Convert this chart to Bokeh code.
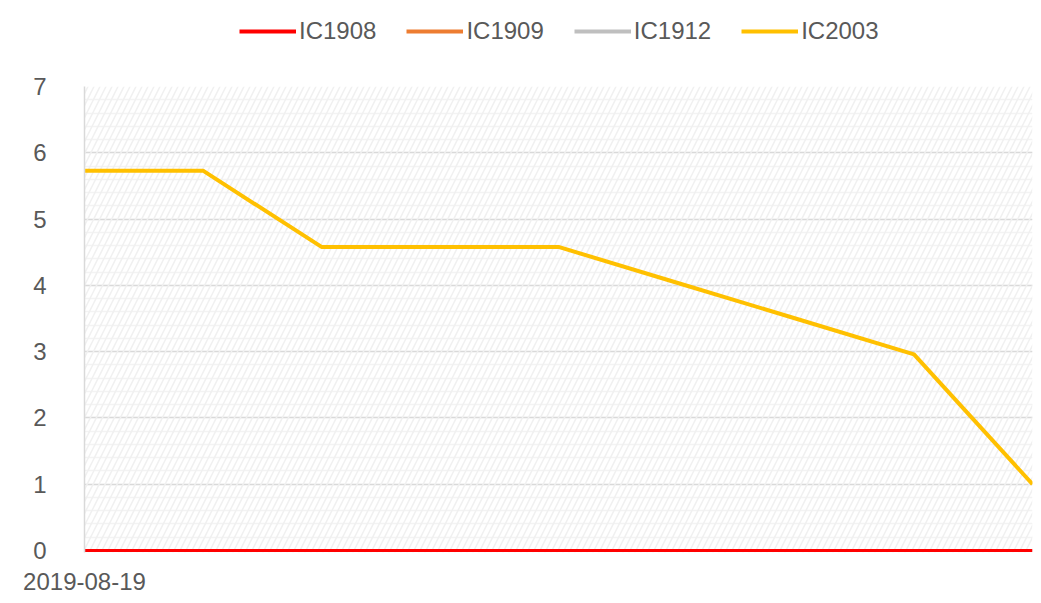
from bokeh.plotting import figure
from bokeh.models import Range1d, FixedTicker, Legend, LegendItem, BoxAnnotation, ColumnDataSource
from bokeh.layouts import column
from bokeh.embed import file_html
from bokeh.resources import INLINE

nan = float("nan")

# Data
categories = ["2019-08-19", "", "", "", "", "", "", "", ""]
x_idx = list(range(len(categories)))
ic1908 = [0, 0, 0, 0, 0, 0, 0, 0, 0]
ic1909 = [nan] * 9
ic1912 = [nan] * 9
ic2003 = [5.73, 5.73, 4.58, 4.58, 4.58, 4.04, 3.50, 2.96, 1.00]
series_names = ["IC1908", "IC1909", "IC1912", "IC2003"]
colors = ["#ff0000", "#ed7d31", "#bfbfbf", "#ffc000"]
y_ticks = [0, 1, 2, 3, 4, 5, 6, 7]

FONT = "Liberation Sans"
TXT = "#595959"
W = 1033
LEG_H = 62

p = figure(width=W, height=533, output_backend="svg", toolbar_location=None,
           x_range=Range1d(0, len(categories) - 1), y_range=Range1d(-0.03, 7),
           min_border_left=84, min_border_right=1, min_border_top=24, min_border_bottom=43)
p.outline_line_color = None
p.background_fill_color = "white"

p.add_layout(BoxAnnotation(fill_alpha=0, line_alpha=0, hatch_pattern="right_diagonal_line",
                           hatch_color="#f0f0f0", hatch_scale=12, hatch_weight=1.5, level="underlay"))

# grids
p.xgrid.grid_line_color = None
p.ygrid.grid_line_color = "#d9d9d9"
p.ygrid.grid_line_width = 1.5
p.ygrid.minor_grid_line_color = "#f3f3f3"
p.ygrid.minor_grid_line_width = 1.5

# axes
p.yaxis.ticker = FixedTicker(ticks=y_ticks, minor_ticks=[i / 5 for i in range(1, 36)])
p.yaxis.axis_line_color = "#d9d9d9"
p.yaxis.axis_line_width = 1.5
p.yaxis.major_tick_line_color = None
p.yaxis.minor_tick_line_color = None
p.yaxis.major_label_standoff = 32
p.yaxis.major_label_text_font = FONT
p.yaxis.major_label_text_font_size = "24px"
p.yaxis.major_label_text_color = TXT

p.xaxis.ticker = FixedTicker(ticks=[i for i, c in enumerate(categories) if c])
p.xaxis.major_label_overrides = {i: c for i, c in enumerate(categories) if c}
p.xaxis.axis_line_color = None
p.xaxis.major_tick_line_color = None
p.xaxis.minor_tick_line_color = None
p.xaxis.major_label_standoff = 14
p.xaxis.major_label_text_font = FONT
p.xaxis.major_label_text_font_size = "24px"
p.xaxis.major_label_text_color = TXT

# legend figure
lf = figure(width=W, height=LEG_H, output_backend="svg", toolbar_location=None,
            x_range=Range1d(0, 1), y_range=Range1d(0, 1),
            min_border_left=0, min_border_right=0, min_border_top=0, min_border_bottom=0)
lf.axis.visible = False
lf.grid.visible = False
lf.outline_line_color = None

data = [ic1908, ic1909, ic1912, ic2003]
widths = [3, 3, 3, 4]
items = []
for name, vals, col, w in zip(series_names, data, colors, widths):
    src = ColumnDataSource(dict(x=x_idx, y=vals))
    p.line("x", "y", source=src, line_color=col, line_width=w)
    rl = lf.line(x=[nan], y=[nan], line_color=col, line_width=4)
    items.append(LegendItem(label=name, renderers=[rl]))

legend = Legend(items=items, orientation="horizontal", location=(155, 17),
                label_text_font=FONT, label_text_font_size="24px", label_text_color=TXT,
                glyph_width=57, glyph_height=28, label_standoff=3, spacing=30,
                border_line_color=None, background_fill_alpha=0, padding=0, margin=0)
lf.add_layout(legend, "center")

layout = column(lf, p, spacing=0)
open("out.html", "w").write(file_html(layout, INLINE))
